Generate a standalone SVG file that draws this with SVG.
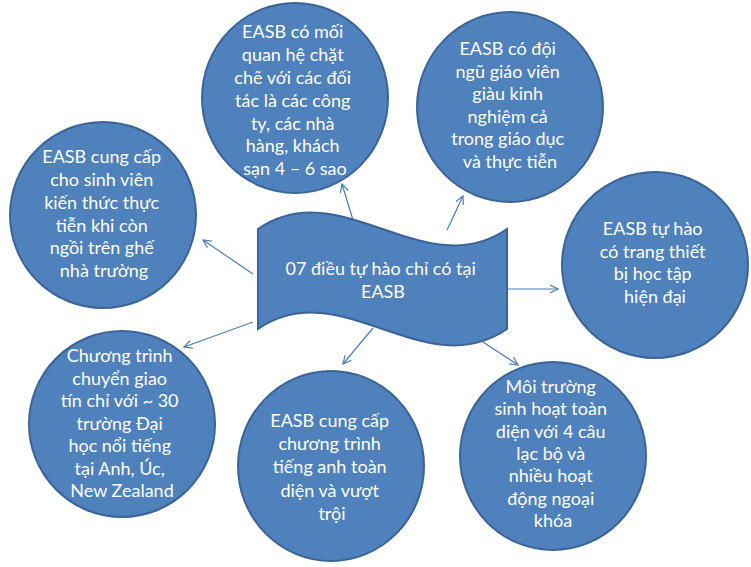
<svg xmlns="http://www.w3.org/2000/svg" width="751" height="567" viewBox="0 0 751 567">
<style>
.node{fill:#4F81BD;stroke:#3A649A;stroke-width:2}
.t{font-family:Lato,"Liberation Sans",sans-serif;font-size:18px;fill:#FFFFFF;text-anchor:middle}
.c{fill:none;stroke:#4A7EBB;stroke-width:1.2}
</style>
<defs>
<marker id="arr" viewBox="0 0 10 10" markerWidth="10" markerHeight="10" refX="9" refY="5" orient="auto" markerUnits="userSpaceOnUse">
<path d="M1,1 L9,5 L1,9" fill="none" stroke="#4A7EBB" stroke-width="1.2"/>
</marker>
</defs>
<rect width="751" height="567" fill="#FFFFFF"/>
<g id="connectors">
<line class="c" x1="353" y1="220" x2="342" y2="184" marker-end="url(#arr)"/>
<line class="c" x1="447" y1="230" x2="463" y2="196" marker-end="url(#arr)"/>
<line class="c" x1="253" y1="274" x2="203" y2="240" marker-end="url(#arr)"/>
<line class="c" x1="507" y1="289" x2="558" y2="289" marker-end="url(#arr)"/>
<line class="c" x1="253" y1="322" x2="184" y2="347" marker-end="url(#arr)"/>
<line class="c" x1="373" y1="328" x2="343" y2="364" marker-end="url(#arr)"/>
<line class="c" x1="483" y1="342" x2="518" y2="365" marker-end="url(#arr)"/>
</g>
<g id="n-top">
<ellipse class="node" cx="295" cy="98" rx="93" ry="95"/>
<text class="t">
<tspan x="295" y="38">EASB có mối</tspan>
<tspan x="295" y="61">quan hệ chặt</tspan>
<tspan x="295" y="84">chẽ với các đối</tspan>
<tspan x="295" y="107">tác là các công</tspan>
<tspan x="295" y="130">ty, các nhà</tspan>
<tspan x="295" y="152">hàng, khách</tspan>
<tspan x="295" y="175">sạn 4 – 6 sao</tspan>
</text>
</g>
<g id="n-topright">
<ellipse class="node" cx="510" cy="107" rx="93" ry="95"/>
<text class="t">
<tspan x="510" y="55">EASB có đội</tspan>
<tspan x="510" y="78">ngũ giáo viên</tspan>
<tspan x="510" y="100">giàu kinh</tspan>
<tspan x="510" y="123">nghiệm cả</tspan>
<tspan x="510" y="145">trong giáo dục</tspan>
<tspan x="510" y="168">và thực tiễn</tspan>
</text>
</g>
<g id="n-left">
<ellipse class="node" cx="103" cy="215" rx="93" ry="93"/>
<text class="t">
<tspan x="104" y="163">EASB cung cấp</tspan>
<tspan x="104" y="186">cho sinh viên</tspan>
<tspan x="104" y="209">kiến thức thực</tspan>
<tspan x="104" y="232">tiễn khi còn</tspan>
<tspan x="104" y="254">ngồi trên ghế</tspan>
<tspan x="104" y="277">nhà trường</tspan>
</text>
</g>
<g id="n-right">
<ellipse class="node" cx="655" cy="265" rx="93" ry="93"/>
<text class="t">
<tspan x="655" y="235">EASB tự hào</tspan>
<tspan x="655" y="258">có trang thiết</tspan>
<tspan x="655" y="280">bị học tập</tspan>
<tspan x="655" y="303">hiện đại</tspan>
</text>
</g>
<g id="n-bottomleft">
<ellipse class="node" cx="122" cy="424" rx="93" ry="93"/>
<text class="t">
<tspan x="122" y="362">Chương trình</tspan>
<tspan x="122" y="385">chuyển giao</tspan>
<tspan x="122" y="407">tín chỉ với ~ 30</tspan>
<tspan x="122" y="430">trường Đại</tspan>
<tspan x="122" y="452">học nổi tiếng</tspan>
<tspan x="122" y="475">tại Anh, Úc,</tspan>
<tspan x="122" y="497">New Zealand</tspan>
</text>
</g>
<g id="n-bottom">
<ellipse class="node" cx="331" cy="466" rx="93" ry="95"/>
<text class="t">
<tspan x="332" y="427">EASB cung cấp</tspan>
<tspan x="332" y="450">chương trình</tspan>
<tspan x="332" y="473">tiếng anh toàn</tspan>
<tspan x="332" y="497">diện và vượt</tspan>
<tspan x="332" y="520">trội</tspan>
</text>
</g>
<g id="n-bottomright">
<ellipse class="node" cx="553" cy="456" rx="93" ry="94"/>
<text class="t">
<tspan x="553" y="393">Môi trường</tspan>
<tspan x="553" y="415">sinh hoạt toàn</tspan>
<tspan x="553" y="438">diện với 4 câu</tspan>
<tspan x="553" y="460">lạc bộ và</tspan>
<tspan x="553" y="482">nhiều hoạt</tspan>
<tspan x="553" y="505">động ngoại</tspan>
<tspan x="553" y="527">khóa</tspan>
</text>
</g>
<g id="n-center">
<path class="node" d="M258,229 C341,172 424,286 507,229 L507,329 C424,386 341,272 258,329 Z"/>
<text class="t">
<tspan x="383" y="275">07 điều tự hào chỉ có tại</tspan>
<tspan x="383" y="298">EASB</tspan>
</text>
</g>
</svg>
